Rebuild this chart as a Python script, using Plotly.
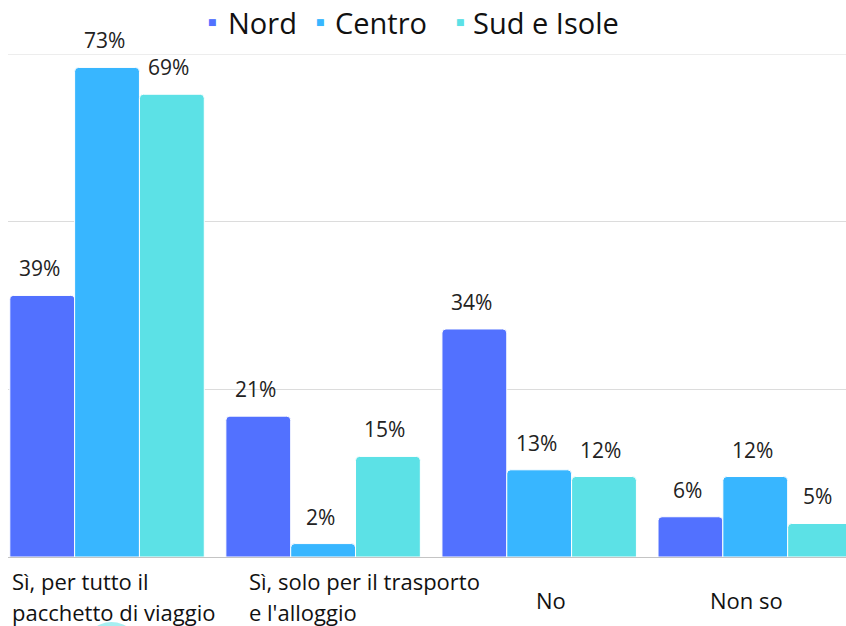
import plotly.graph_objects as go

categories = ["Sì, per tutto il\npacchetto di viaggio", "Sì, solo per il trasporto\ne l'alloggio", "No", "Non so"]
series_names = ["Nord", "Centro", "Sud e Isole"]
nord = [39, 21, 34, 6]
centro = [73, 2, 13, 12]
sud = [69, 15, 12, 5]
colors = ["#5271FF", "#38B6FF", "#5CE1E6"]

FONT = "Open Sans"
values = [nord, centro, sud]
xidx = list(range(len(categories)))

W, H = 846, 626
PT, PB = 54, 557  # page px of plot area top/bottom
PLX = 8           # page px where the axis area starts


def pxx(page_x):
    return page_x / W


def pxy(page_y):
    return (PB - page_y) / (PB - PT)


fig = go.Figure()
for name, vals, col in zip(series_names, values, colors):
    fig.add_trace(go.Bar(x=xidx, y=vals, name=name,
                         marker=dict(color=col, line=dict(color="white", width=1)),
                         showlegend=False, hoverinfo="skip"))

annotations = []
band_px = 216
bar_px = band_px * 0.9 / 3
for s, vals in enumerate(values):
    for i, v in enumerate(vals):
        annotations.append(dict(x=i, y=v, xref="x", yref="y", text=f"{v}%", showarrow=False,
                                xshift=(s - 1) * bar_px - 3, yshift=27, yanchor="middle",
                                font=dict(family=FONT, size=21, color="#222")))

# category labels (text boxes)
label_style = [dict(xanchor="left", xshift=-97), dict(xanchor="left", xshift=-76),
               dict(xanchor="center", xshift=12), dict(xanchor="center", xshift=-9)]
for i, cat in enumerate(categories):
    lines = cat.split("\n")
    st = label_style[i]
    ys = [-43] if len(lines) == 1 else [-24, -55]
    for line, ysh in zip(lines, ys):
        annotations.append(dict(x=i, y=0, xref="x", yref="paper", text=line, showarrow=False,
                                xanchor=st["xanchor"], xshift=st["xshift"], yshift=ysh, yanchor="middle",
                                font=dict(family=FONT, size=22, color="#111")))

# legend drawn as text boxes
legend_marker_x = [213, 320, 460]
legend_text_x = [226, 333, 471]
for name, col, mx, tx in zip(series_names, colors, legend_marker_x, legend_text_x):
    annotations.append(dict(x=pxx(mx), y=pxy(22), xref="paper", yref="paper", text="■", showarrow=False,
                            xanchor="center", yanchor="middle", font=dict(family="DejaVu Sans", size=9, color=col)))
    annotations.append(dict(x=pxx(tx), y=pxy(22), xref="paper", yref="paper", text=name, showarrow=False,
                            xanchor="left", yanchor="middle", font=dict(family=FONT, size=29, color="#111")))

fig.update_layout(
    width=W, height=H,
    margin=dict(l=0, r=0, t=PT, b=H - PB, pad=0),
    paper_bgcolor="white", plot_bgcolor="white",
    barmode="group", bargap=0.1, bargroupgap=0, barcornerradius=4,
    font=dict(family=FONT, color="#111"),
    showlegend=False,
    annotations=annotations,
    xaxis=dict(domain=[PLX / W, 1], range=[(PLX - 107) / band_px, 3.42], showticklabels=False,
               showgrid=False, zeroline=False,
               showline=True, linecolor="#c4c4c4", linewidth=1, fixedrange=True),
    yaxis=dict(range=[0, 75], tickvals=[25, 50], showticklabels=False, showgrid=True,
               gridcolor="#dcdcdc", zeroline=False, showline=False, fixedrange=True),
    shapes=[dict(type="line", xref="paper", yref="y", x0=PLX / W, x1=1, y0=75, y1=75,
                 line=dict(color="#dcdcdc", width=1), layer="below"),
            dict(type="circle", xref="paper", yref="paper", x0=pxx(83), x1=pxx(140),
                 y0=pxy(680), y1=pxy(622), fillcolor="#5CE1E6", opacity=0.55,
                 line=dict(width=0), layer="below")],
)

fig.write_html("out.html", config={"displayModeBar": False},
               post_script="document.body.style.margin='0';")
